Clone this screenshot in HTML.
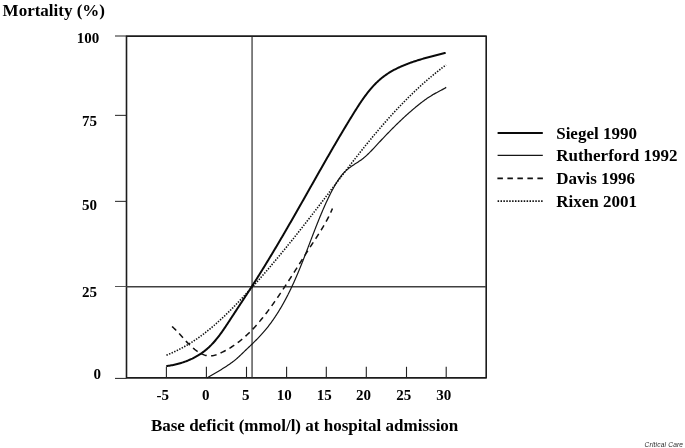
<!DOCTYPE html>
<html><head><meta charset="utf-8"><title>Mortality vs base deficit</title>
<style>
html,body{margin:0;padding:0;background:#fff;}
body{width:685px;height:448px;overflow:hidden;position:relative;}
svg{position:absolute;left:0;top:0;display:block;opacity:0.999;will-change:transform;}
text{font-family:"Liberation Serif",serif;font-weight:bold;fill:#000;}
.t15{font-size:15px;}
.t16{font-size:17px;}
</style></head><body>
<svg width="685" height="448" viewBox="0 0 685 448">
<rect x="0" y="0" width="685" height="448" fill="#fff"/>
<!-- frame -->
<rect x="126.5" y="36.1" width="359.7" height="341.8" fill="none" stroke="#1c1c1c" stroke-width="1.6" stroke-linejoin="round"/>
<!-- reference lines -->
<line x1="115" y1="286.5" x2="126.5" y2="286.5" stroke="#555" stroke-width="1"/>
<line x1="126.5" y1="286.7" x2="486" y2="286.7" stroke="#404040" stroke-width="1.45"/>
<line x1="252.05" y1="36" x2="252.05" y2="378" stroke="#262626" stroke-width="1.15"/>
<!-- y ticks -->
<g stroke="#222" stroke-width="1">
<line x1="115" y1="36.0" x2="126.5" y2="36.0"/>
<line x1="115" y1="115.35" x2="126.5" y2="115.35"/>
<line x1="115" y1="201.35" x2="126.5" y2="201.35"/>
<line x1="115" y1="378.4" x2="126.5" y2="378.4"/>
</g>
<!-- x ticks -->
<g stroke="#222" stroke-width="1.1">
<line x1="166.4" y1="366.8" x2="166.4" y2="378"/>
<line x1="206.4" y1="366.8" x2="206.4" y2="378"/>
<line x1="246.5" y1="366.8" x2="246.5" y2="378"/>
<line x1="286.6" y1="366.8" x2="286.6" y2="378"/>
<line x1="326.3" y1="366.8" x2="326.3" y2="378"/>
<line x1="366.3" y1="366.8" x2="366.3" y2="378"/>
<line x1="406.5" y1="366.8" x2="406.5" y2="378"/>
<line x1="446.2" y1="366.8" x2="446.2" y2="378"/>
</g>
<!-- curves -->
<path d="M166.30 366.09 L167.31 365.97 L168.31 365.83 L169.32 365.68 L170.32 365.52 L171.32 365.35 L172.32 365.16 L173.32 364.96 L174.31 364.75 L175.30 364.53 L176.29 364.30 L177.27 364.05 L178.25 363.80 L179.23 363.53 L180.20 363.25 L181.17 362.96 L182.13 362.65 L183.09 362.34 L184.05 362.01 L185.00 361.67 L185.94 361.32 L186.88 360.95 L187.81 360.58 L188.74 360.19 L189.66 359.79 L190.58 359.38 L191.49 358.96 L192.39 358.53 L193.28 358.08 L194.17 357.62 L195.05 357.15 L195.93 356.67 L196.79 356.18 L197.65 355.68 L198.50 355.16 L199.34 354.64 L200.18 354.10 L201.00 353.55 L201.82 352.98 L202.63 352.41 L203.42 351.83 L204.21 351.23 L204.99 350.62 L205.76 350.00 L206.52 349.37 L207.27 348.73 L208.01 348.08 L208.74 347.41 L209.45 346.74 L210.16 346.05 L210.86 345.35 L211.56 344.65 L212.24 343.93 L212.91 343.21 L213.58 342.48 L214.24 341.74 L214.89 340.99 L215.54 340.23 L216.17 339.47 L216.80 338.70 L217.43 337.92 L218.05 337.13 L218.66 336.34 L219.27 335.55 L219.87 334.74 L220.46 333.94 L221.06 333.13 L221.64 332.31 L222.23 331.49 L222.80 330.66 L223.38 329.84 L223.95 329.00 L224.52 328.17 L225.08 327.33 L225.65 326.49 L226.21 325.65 L226.77 324.81 L227.32 323.97 L227.88 323.12 L228.43 322.28 L228.99 321.43 L229.54 320.59 L230.09 319.74 L230.64 318.90 L231.19 318.05 L231.74 317.21 L232.29 316.37 L232.85 315.53 L233.40 314.68 L233.95 313.84 L234.50 313.01 L235.05 312.17 L235.60 311.33 L236.15 310.49 L236.70 309.65 L237.25 308.82 L237.80 307.98 L238.35 307.15 L238.90 306.31 L239.45 305.48 L240.00 304.64 L240.55 303.81 L241.10 302.97 L241.65 302.14 L242.19 301.30 L242.74 300.47 L243.29 299.63 L243.83 298.80 L244.38 297.97 L244.93 297.13 L245.47 296.30 L246.02 295.46 L246.56 294.63 L247.11 293.79 L247.65 292.96 L248.19 292.12 L248.74 291.28 L249.28 290.45 L249.82 289.61 L250.36 288.77 L250.90 287.93 L251.44 287.09 L251.98 286.25 L252.52 285.41 L253.05 284.57 L253.59 283.73 L254.13 282.89 L254.66 282.05 L255.20 281.20 L255.73 280.36 L256.26 279.51 L256.80 278.67 L257.33 277.82 L257.86 276.97 L258.39 276.13 L258.92 275.28 L259.45 274.43 L259.98 273.58 L260.51 272.73 L261.04 271.88 L261.57 271.03 L262.09 270.18 L262.62 269.33 L263.15 268.47 L263.67 267.62 L264.20 266.77 L264.72 265.91 L265.24 265.06 L265.77 264.20 L266.29 263.35 L266.81 262.49 L267.33 261.64 L267.85 260.78 L268.37 259.92 L268.89 259.07 L269.41 258.21 L269.93 257.35 L270.45 256.49 L270.97 255.63 L271.48 254.77 L272.00 253.91 L272.52 253.05 L273.03 252.19 L273.55 251.33 L274.06 250.47 L274.57 249.61 L275.09 248.74 L275.60 247.88 L276.11 247.02 L276.63 246.15 L277.14 245.29 L277.65 244.43 L278.16 243.56 L278.67 242.70 L279.18 241.83 L279.69 240.97 L280.20 240.10 L280.71 239.24 L281.21 238.37 L281.72 237.51 L282.23 236.64 L282.73 235.77 L283.24 234.91 L283.75 234.04 L284.25 233.17 L284.76 232.31 L285.26 231.44 L285.77 230.57 L286.27 229.70 L286.77 228.83 L287.28 227.97 L287.78 227.10 L288.28 226.23 L288.78 225.36 L289.28 224.49 L289.78 223.62 L290.29 222.75 L290.79 221.89 L291.29 221.02 L291.79 220.15 L292.28 219.28 L292.78 218.41 L293.28 217.54 L293.78 216.67 L294.28 215.80 L294.78 214.93 L295.27 214.06 L295.77 213.19 L296.27 212.32 L296.76 211.45 L297.26 210.58 L297.75 209.71 L298.25 208.84 L298.74 207.97 L299.24 207.10 L299.73 206.23 L300.23 205.36 L300.72 204.49 L301.21 203.62 L301.71 202.75 L302.20 201.88 L302.69 201.02 L303.19 200.15 L303.68 199.28 L304.17 198.41 L304.66 197.54 L305.16 196.67 L305.65 195.80 L306.14 194.93 L306.63 194.06 L307.12 193.19 L307.61 192.32 L308.10 191.46 L308.60 190.59 L309.09 189.72 L309.58 188.85 L310.07 187.98 L310.56 187.11 L311.05 186.24 L311.54 185.37 L312.03 184.51 L312.52 183.64 L313.01 182.77 L313.50 181.90 L314.00 181.03 L314.49 180.17 L314.98 179.30 L315.47 178.43 L315.96 177.56 L316.45 176.69 L316.94 175.83 L317.44 174.96 L317.93 174.09 L318.42 173.22 L318.91 172.35 L319.40 171.49 L319.90 170.62 L320.39 169.75 L320.88 168.89 L321.38 168.02 L321.87 167.15 L322.36 166.28 L322.86 165.42 L323.35 164.55 L323.85 163.68 L324.34 162.82 L324.84 161.95 L325.33 161.08 L325.83 160.22 L326.33 159.35 L326.82 158.48 L327.32 157.62 L327.82 156.75 L328.31 155.89 L328.81 155.02 L329.31 154.15 L329.81 153.29 L330.31 152.42 L330.81 151.56 L331.31 150.69 L331.81 149.83 L332.31 148.96 L332.82 148.10 L333.32 147.23 L333.82 146.37 L334.33 145.50 L334.83 144.64 L335.34 143.77 L335.84 142.91 L336.35 142.04 L336.86 141.18 L337.36 140.31 L337.87 139.45 L338.38 138.58 L338.89 137.72 L339.40 136.86 L339.91 135.99 L340.42 135.13 L340.93 134.26 L341.45 133.40 L341.96 132.54 L342.47 131.67 L342.99 130.81 L343.51 129.95 L344.02 129.08 L344.54 128.22 L345.06 127.36 L345.58 126.49 L346.10 125.63 L346.62 124.77 L347.14 123.91 L347.66 123.05 L348.19 122.18 L348.71 121.32 L349.24 120.46 L349.76 119.60 L350.29 118.74 L350.82 117.87 L351.35 117.01 L351.88 116.15 L352.41 115.29 L352.94 114.43 L353.47 113.57 L354.01 112.71 L354.54 111.85 L355.08 110.99 L355.62 110.13 L356.16 109.27 L356.70 108.42 L357.25 107.56 L357.80 106.71 L358.35 105.86 L358.90 105.01 L359.45 104.17 L360.01 103.32 L360.57 102.48 L361.14 101.65 L361.71 100.81 L362.28 99.98 L362.85 99.16 L363.43 98.34 L364.02 97.52 L364.61 96.71 L365.20 95.90 L365.80 95.09 L366.40 94.30 L367.01 93.50 L367.62 92.71 L368.24 91.93 L368.86 91.16 L369.49 90.39 L370.12 89.62 L370.76 88.87 L371.41 88.12 L372.06 87.37 L372.72 86.64 L373.39 85.91 L374.06 85.19 L374.74 84.48 L375.43 83.77 L376.12 83.07 L376.83 82.39 L377.53 81.71 L378.25 81.04 L378.98 80.38 L379.71 79.72 L380.45 79.08 L381.20 78.45 L381.96 77.83 L382.73 77.22 L383.50 76.61 L384.29 76.02 L385.09 75.44 L385.89 74.87 L386.70 74.32 L387.52 73.77 L388.35 73.23 L389.19 72.70 L390.03 72.18 L390.89 71.67 L391.75 71.17 L392.61 70.68 L393.49 70.20 L394.37 69.73 L395.25 69.27 L396.15 68.81 L397.05 68.37 L397.95 67.93 L398.86 67.50 L399.77 67.08 L400.69 66.66 L401.62 66.25 L402.54 65.85 L403.48 65.46 L404.41 65.08 L405.35 64.70 L406.30 64.33 L407.24 63.96 L408.19 63.60 L409.14 63.25 L410.10 62.90 L411.05 62.56 L412.01 62.23 L412.97 61.90 L413.93 61.57 L414.90 61.25 L415.86 60.94 L416.82 60.63 L417.79 60.32 L418.75 60.02 L419.72 59.73 L420.69 59.44 L421.65 59.15 L422.62 58.86 L423.59 58.58 L424.56 58.31 L425.52 58.03 L426.49 57.76 L427.46 57.50 L428.43 57.23 L429.39 56.97 L430.36 56.72 L431.33 56.46 L432.29 56.21 L433.26 55.96 L434.22 55.71 L435.18 55.46 L436.14 55.22 L437.11 54.98 L438.07 54.74 L439.02 54.50 L439.98 54.26 L440.94 54.03 L441.89 53.79 L442.84 53.56 L443.80 53.32 L444.74 53.09 L445.69 52.86" fill="none" stroke="#0a0a0a" stroke-width="2.0" stroke-linejoin="round"/>
<path d="M206.84 378.05 L207.69 377.55 L208.55 377.05 L209.41 376.55 L210.27 376.05 L211.13 375.54 L211.99 375.04 L212.86 374.54 L213.72 374.03 L214.59 373.52 L215.45 373.01 L216.32 372.50 L217.18 371.99 L218.04 371.47 L218.90 370.95 L219.76 370.43 L220.62 369.91 L221.48 369.39 L222.33 368.86 L223.19 368.33 L224.04 367.79 L224.88 367.26 L225.73 366.71 L226.57 366.17 L227.40 365.62 L228.23 365.06 L229.06 364.50 L229.88 363.93 L230.69 363.35 L231.50 362.77 L232.30 362.18 L233.09 361.58 L233.88 360.98 L234.65 360.36 L235.42 359.73 L236.18 359.10 L236.93 358.45 L237.68 357.79 L238.41 357.13 L239.14 356.45 L239.86 355.77 L240.58 355.09 L241.30 354.40 L242.02 353.71 L242.73 353.02 L243.45 352.33 L244.17 351.63 L244.89 350.94 L245.61 350.25 L246.34 349.56 L247.06 348.87 L247.79 348.18 L248.51 347.49 L249.23 346.79 L249.96 346.10 L250.68 345.41 L251.41 344.71 L252.13 344.01 L252.85 343.31 L253.57 342.61 L254.28 341.91 L254.99 341.20 L255.71 340.49 L256.41 339.78 L257.12 339.07 L257.82 338.35 L258.52 337.63 L259.21 336.90 L259.90 336.18 L260.58 335.44 L261.26 334.71 L261.93 333.96 L262.60 333.22 L263.26 332.46 L263.92 331.71 L264.57 330.95 L265.22 330.18 L265.85 329.41 L266.49 328.63 L267.12 327.85 L267.74 327.07 L268.35 326.28 L268.97 325.49 L269.57 324.69 L270.17 323.89 L270.77 323.09 L271.36 322.28 L271.94 321.47 L272.52 320.65 L273.10 319.83 L273.67 319.01 L274.23 318.19 L274.79 317.36 L275.34 316.53 L275.90 315.69 L276.44 314.86 L276.98 314.02 L277.52 313.18 L278.05 312.33 L278.58 311.48 L279.10 310.63 L279.62 309.78 L280.13 308.93 L280.64 308.07 L281.15 307.21 L281.65 306.35 L282.15 305.49 L282.64 304.63 L283.13 303.76 L283.61 302.89 L284.09 302.02 L284.57 301.14 L285.05 300.27 L285.52 299.39 L285.98 298.51 L286.45 297.63 L286.91 296.75 L287.36 295.86 L287.82 294.98 L288.26 294.09 L288.71 293.20 L289.15 292.31 L289.59 291.41 L290.03 290.52 L290.46 289.62 L290.90 288.72 L291.32 287.82 L291.75 286.92 L292.17 286.02 L292.59 285.11 L293.01 284.21 L293.42 283.30 L293.83 282.39 L294.24 281.48 L294.65 280.57 L295.05 279.66 L295.45 278.74 L295.85 277.83 L296.25 276.91 L296.65 276.00 L297.04 275.08 L297.43 274.16 L297.82 273.24 L298.21 272.32 L298.59 271.39 L298.98 270.47 L299.36 269.54 L299.74 268.62 L300.12 267.69 L300.50 266.77 L300.87 265.84 L301.25 264.91 L301.62 263.98 L301.99 263.05 L302.36 262.12 L302.73 261.19 L303.10 260.26 L303.47 259.32 L303.83 258.39 L304.20 257.46 L304.56 256.52 L304.92 255.59 L305.29 254.65 L305.65 253.72 L306.01 252.78 L306.37 251.85 L306.73 250.91 L307.09 249.97 L307.45 249.04 L307.81 248.10 L308.17 247.16 L308.52 246.22 L308.88 245.29 L309.24 244.35 L309.60 243.41 L309.96 242.47 L310.31 241.54 L310.67 240.60 L311.03 239.66 L311.39 238.72 L311.75 237.79 L312.10 236.85 L312.46 235.91 L312.82 234.98 L313.18 234.04 L313.54 233.10 L313.91 232.17 L314.27 231.23 L314.63 230.30 L314.99 229.36 L315.36 228.43 L315.72 227.49 L316.09 226.56 L316.46 225.63 L316.83 224.70 L317.20 223.77 L317.57 222.84 L317.94 221.91 L318.31 220.98 L318.69 220.05 L319.06 219.12 L319.44 218.19 L319.82 217.27 L320.20 216.34 L320.59 215.42 L320.97 214.49 L321.36 213.57 L321.74 212.65 L322.14 211.73 L322.53 210.81 L322.92 209.89 L323.32 208.97 L323.72 208.06 L324.12 207.14 L324.52 206.23 L324.93 205.32 L325.34 204.41 L325.75 203.50 L326.16 202.59 L326.58 201.68 L327.00 200.78 L327.42 199.88 L327.85 198.97 L328.28 198.07 L328.72 197.18 L329.15 196.28 L329.60 195.39 L330.04 194.49 L330.49 193.60 L330.95 192.71 L331.41 191.83 L331.87 190.94 L332.34 190.06 L332.81 189.18 L333.29 188.30 L333.77 187.43 L334.26 186.56 L334.75 185.69 L335.25 184.82 L335.76 183.96 L336.27 183.10 L336.80 182.25 L337.33 181.40 L337.86 180.56 L338.41 179.73 L338.97 178.91 L339.54 178.10 L340.13 177.30 L340.72 176.51 L341.33 175.73 L341.95 174.96 L342.58 174.20 L343.23 173.46 L343.90 172.73 L344.58 172.02 L345.27 171.32 L345.99 170.64 L346.72 169.98 L347.47 169.34 L348.23 168.71 L349.02 168.10 L349.82 167.50 L350.63 166.92 L351.45 166.34 L352.28 165.78 L353.12 165.22 L353.96 164.67 L354.81 164.12 L355.66 163.58 L356.52 163.03 L357.36 162.48 L358.21 161.93 L359.05 161.37 L359.88 160.80 L360.71 160.22 L361.52 159.64 L362.32 159.04 L363.11 158.42 L363.89 157.79 L364.65 157.15 L365.41 156.50 L366.15 155.84 L366.89 155.17 L367.61 154.49 L368.33 153.80 L369.04 153.10 L369.75 152.40 L370.44 151.69 L371.14 150.97 L371.83 150.25 L372.51 149.53 L373.20 148.80 L373.88 148.07 L374.56 147.33 L375.24 146.60 L375.92 145.87 L376.60 145.13 L377.28 144.40 L377.96 143.67 L378.64 142.93 L379.32 142.20 L380.01 141.47 L380.69 140.74 L381.38 140.01 L382.07 139.28 L382.76 138.55 L383.45 137.83 L384.14 137.10 L384.83 136.37 L385.52 135.65 L386.22 134.93 L386.91 134.20 L387.61 133.48 L388.31 132.76 L389.01 132.05 L389.71 131.33 L390.41 130.61 L391.12 129.90 L391.82 129.19 L392.53 128.47 L393.24 127.76 L393.95 127.06 L394.66 126.35 L395.37 125.65 L396.08 124.94 L396.80 124.24 L397.52 123.54 L398.24 122.84 L398.96 122.15 L399.68 121.46 L400.41 120.76 L401.13 120.08 L401.86 119.39 L402.59 118.70 L403.32 118.02 L404.06 117.34 L404.79 116.66 L405.53 115.99 L406.27 115.31 L407.01 114.64 L407.76 113.98 L408.50 113.31 L409.25 112.65 L410.00 111.99 L410.75 111.33 L411.51 110.68 L412.26 110.02 L413.02 109.38 L413.78 108.73 L414.54 108.09 L415.31 107.45 L416.08 106.81 L416.85 106.18 L417.62 105.55 L418.40 104.92 L419.18 104.30 L419.96 103.68 L420.74 103.07 L421.53 102.46 L422.32 101.86 L423.12 101.26 L423.92 100.67 L424.72 100.08 L425.53 99.50 L426.35 98.93 L427.16 98.36 L427.99 97.80 L428.82 97.25 L429.65 96.70 L430.49 96.17 L431.33 95.64 L432.19 95.12 L433.04 94.61 L433.91 94.11 L434.78 93.62 L435.65 93.14 L436.54 92.66 L437.42 92.19 L438.31 91.73 L439.20 91.26 L440.09 90.79 L440.98 90.33 L441.86 89.85 L442.74 89.38 L443.62 88.89 L444.49 88.40 L445.36 87.89 L446.21 87.37" fill="none" stroke="#151515" stroke-width="1.2"/>
<path d="M332.47 208.42 L332.09 209.34 L331.71 210.25 L331.31 211.16 L330.91 212.07 L330.49 212.98 L330.07 213.88 L329.65 214.78 L329.21 215.67 L328.77 216.56 L328.32 217.45 L327.86 218.34 L327.40 219.22 L326.93 220.10 L326.45 220.97 L325.97 221.85 L325.49 222.72 L325.00 223.59 L324.50 224.45 L324.00 225.32 L323.49 226.18 L322.98 227.04 L322.46 227.90 L321.95 228.75 L321.42 229.61 L320.90 230.46 L320.37 231.31 L319.84 232.16 L319.30 233.01 L318.77 233.85 L318.23 234.70 L317.69 235.54 L317.14 236.38 L316.60 237.23 L316.05 238.07 L315.50 238.91 L314.96 239.75 L314.41 240.59 L313.86 241.43 L313.31 242.27 L312.76 243.11 L312.22 243.94 L311.67 244.78 L311.12 245.62 L310.58 246.46 L310.03 247.30 L309.49 248.14 L308.95 248.98 L308.40 249.82 L307.86 250.66 L307.32 251.50 L306.79 252.33 L306.25 253.17 L305.71 254.01 L305.17 254.85 L304.64 255.69 L304.10 256.53 L303.57 257.38 L303.03 258.22 L302.50 259.06 L301.97 259.90 L301.43 260.74 L300.90 261.58 L300.37 262.42 L299.83 263.26 L299.30 264.10 L298.77 264.94 L298.24 265.78 L297.71 266.62 L297.17 267.45 L296.64 268.29 L296.11 269.13 L295.58 269.97 L295.04 270.81 L294.51 271.65 L293.98 272.49 L293.44 273.33 L292.91 274.16 L292.37 275.00 L291.84 275.84 L291.30 276.68 L290.77 277.51 L290.23 278.35 L289.69 279.19 L289.15 280.02 L288.61 280.86 L288.07 281.69 L287.53 282.53 L286.99 283.36 L286.45 284.20 L285.90 285.03 L285.36 285.86 L284.81 286.70 L284.26 287.53 L283.71 288.36 L283.16 289.19 L282.61 290.02 L282.06 290.85 L281.50 291.68 L280.95 292.51 L280.39 293.34 L279.83 294.17 L279.27 295.00 L278.71 295.83 L278.14 296.65 L277.58 297.48 L277.01 298.30 L276.44 299.13 L275.87 299.95 L275.30 300.78 L274.72 301.60 L274.14 302.42 L273.56 303.24 L272.98 304.06 L272.40 304.88 L271.81 305.70 L271.22 306.52 L270.63 307.33 L270.03 308.15 L269.44 308.96 L268.84 309.77 L268.24 310.58 L267.63 311.39 L267.02 312.19 L266.41 313.00 L265.80 313.80 L265.18 314.59 L264.56 315.39 L263.94 316.18 L263.31 316.97 L262.68 317.76 L262.05 318.54 L261.41 319.32 L260.77 320.10 L260.13 320.87 L259.48 321.64 L258.83 322.41 L258.18 323.17 L257.52 323.93 L256.86 324.68 L256.19 325.43 L255.52 326.18 L254.85 326.92 L254.17 327.66 L253.48 328.39 L252.80 329.12 L252.11 329.84 L251.41 330.55 L250.71 331.27 L250.00 331.97 L249.29 332.67 L248.58 333.37 L247.86 334.06 L247.13 334.74 L246.41 335.42 L245.67 336.09 L244.93 336.76 L244.19 337.42 L243.44 338.07 L242.68 338.71 L241.92 339.35 L241.16 339.99 L240.39 340.61 L239.61 341.23 L238.83 341.84 L238.04 342.44 L237.25 343.04 L236.45 343.63 L235.64 344.21 L234.83 344.78 L234.02 345.35 L233.19 345.91 L232.37 346.45 L231.53 347.00 L230.69 347.53 L229.84 348.05 L228.99 348.57 L228.13 349.07 L227.26 349.57 L226.39 350.06 L225.51 350.53 L224.62 351.00 L223.73 351.46 L222.83 351.91 L221.92 352.35 L221.00 352.79 L220.08 353.21 L219.16 353.61 L218.22 354.00 L217.29 354.36 L216.34 354.70 L215.40 355.00 L214.46 355.27 L213.51 355.50 L212.56 355.68 L211.62 355.82 L210.67 355.90 L209.73 355.92 L208.79 355.88 L207.85 355.79 L206.92 355.64 L205.99 355.44 L205.07 355.19 L204.15 354.90 L203.24 354.56 L202.34 354.18 L201.44 353.76 L200.56 353.31 L199.68 352.82 L198.81 352.30 L197.95 351.76 L197.11 351.19 L196.27 350.59 L195.45 349.98 L194.63 349.35 L193.84 348.70 L193.05 348.04 L192.27 347.37 L191.51 346.68 L190.76 345.98 L190.01 345.28 L189.28 344.56 L188.56 343.84 L187.84 343.11 L187.13 342.37 L186.43 341.62 L185.73 340.88 L185.04 340.13 L184.35 339.37 L183.67 338.62 L182.99 337.86 L182.31 337.11 L181.64 336.35 L180.96 335.60 L180.29 334.86 L179.62 334.11 L178.95 333.37 L178.27 332.64 L177.60 331.92 L176.92 331.20 L176.24 330.49 L175.56 329.80 L174.87 329.11 L174.18 328.44 L173.48 327.77 L172.78 327.13 L172.07 326.49" fill="none" stroke="#111" stroke-width="1.5" stroke-dasharray="5.72 4.32" stroke-dashoffset="1.12"/>
<path d="M166.47 355.16 L167.42 354.78 L168.36 354.40 L169.31 354.01 L170.24 353.61 L171.18 353.21 L172.11 352.80 L173.03 352.39 L173.95 351.97 L174.87 351.54 L175.78 351.11 L176.69 350.67 L177.59 350.22 L178.49 349.77 L179.39 349.31 L180.28 348.85 L181.17 348.38 L182.06 347.91 L182.94 347.43 L183.81 346.94 L184.69 346.45 L185.56 345.96 L186.42 345.45 L187.29 344.95 L188.14 344.44 L189.00 343.92 L189.85 343.40 L190.70 342.87 L191.54 342.34 L192.38 341.80 L193.22 341.26 L194.05 340.71 L194.88 340.16 L195.71 339.60 L196.53 339.04 L197.35 338.48 L198.17 337.91 L198.98 337.33 L199.80 336.76 L200.60 336.17 L201.41 335.58 L202.21 334.99 L203.00 334.40 L203.80 333.80 L204.59 333.19 L205.38 332.58 L206.16 331.97 L206.95 331.36 L207.73 330.74 L208.50 330.11 L209.28 329.49 L210.05 328.85 L210.82 328.22 L211.58 327.58 L212.34 326.94 L213.10 326.29 L213.86 325.65 L214.62 325.00 L215.37 324.34 L216.12 323.68 L216.87 323.02 L217.61 322.36 L218.35 321.69 L219.09 321.02 L219.83 320.35 L220.57 319.67 L221.30 318.99 L222.03 318.31 L222.76 317.63 L223.49 316.95 L224.21 316.26 L224.94 315.57 L225.66 314.87 L226.38 314.18 L227.09 313.48 L227.81 312.78 L228.52 312.08 L229.24 311.38 L229.95 310.67 L230.65 309.96 L231.36 309.26 L232.07 308.55 L232.77 307.83 L233.47 307.12 L234.17 306.40 L234.87 305.69 L235.57 304.97 L236.27 304.25 L236.96 303.53 L237.66 302.81 L238.35 302.08 L239.04 301.36 L239.73 300.63 L240.42 299.91 L241.11 299.18 L241.79 298.45 L242.48 297.72 L243.16 296.99 L243.85 296.26 L244.53 295.53 L245.21 294.80 L245.89 294.07 L246.57 293.33 L247.25 292.60 L247.93 291.86 L248.61 291.13 L249.28 290.39 L249.96 289.65 L250.63 288.91 L251.30 288.17 L251.98 287.43 L252.65 286.69 L253.32 285.95 L253.99 285.20 L254.65 284.46 L255.32 283.72 L255.99 282.97 L256.65 282.23 L257.32 281.48 L257.98 280.73 L258.64 279.98 L259.31 279.23 L259.97 278.49 L260.63 277.73 L261.29 276.98 L261.94 276.23 L262.60 275.48 L263.26 274.73 L263.91 273.97 L264.57 273.22 L265.22 272.46 L265.88 271.71 L266.53 270.95 L267.18 270.19 L267.83 269.44 L268.48 268.68 L269.13 267.92 L269.78 267.16 L270.43 266.40 L271.07 265.64 L271.72 264.87 L272.37 264.11 L273.01 263.35 L273.66 262.58 L274.30 261.82 L274.94 261.06 L275.58 260.29 L276.22 259.52 L276.87 258.76 L277.51 257.99 L278.14 257.22 L278.78 256.45 L279.42 255.68 L280.06 254.92 L280.69 254.15 L281.33 253.37 L281.97 252.60 L282.60 251.83 L283.23 251.06 L283.87 250.29 L284.50 249.51 L285.13 248.74 L285.76 247.96 L286.40 247.19 L287.03 246.41 L287.66 245.64 L288.29 244.86 L288.91 244.09 L289.54 243.31 L290.17 242.53 L290.80 241.75 L291.42 240.97 L292.05 240.19 L292.67 239.41 L293.30 238.63 L293.92 237.85 L294.55 237.07 L295.17 236.29 L295.79 235.51 L296.42 234.73 L297.04 233.94 L297.66 233.16 L298.28 232.38 L298.90 231.59 L299.52 230.81 L300.14 230.02 L300.76 229.24 L301.38 228.45 L302.00 227.67 L302.62 226.88 L303.23 226.10 L303.85 225.31 L304.47 224.52 L305.09 223.73 L305.70 222.95 L306.32 222.16 L306.93 221.37 L307.55 220.58 L308.16 219.79 L308.78 219.00 L309.39 218.21 L310.01 217.42 L310.62 216.63 L311.23 215.84 L311.84 215.05 L312.46 214.26 L313.07 213.47 L313.68 212.67 L314.29 211.88 L314.90 211.09 L315.52 210.30 L316.13 209.50 L316.74 208.71 L317.35 207.92 L317.96 207.12 L318.57 206.33 L319.18 205.53 L319.79 204.74 L320.40 203.95 L321.01 203.15 L321.61 202.36 L322.22 201.56 L322.83 200.77 L323.44 199.97 L324.05 199.17 L324.66 198.38 L325.26 197.58 L325.87 196.79 L326.48 195.99 L327.09 195.19 L327.69 194.40 L328.30 193.60 L328.91 192.80 L329.52 192.01 L330.12 191.21 L330.73 190.41 L331.34 189.61 L331.94 188.82 L332.55 188.02 L333.16 187.22 L333.76 186.42 L334.37 185.63 L334.98 184.83 L335.59 184.03 L336.19 183.24 L336.80 182.44 L337.41 181.64 L338.02 180.84 L338.62 180.05 L339.23 179.25 L339.84 178.45 L340.45 177.66 L341.06 176.86 L341.67 176.07 L342.28 175.27 L342.88 174.47 L343.49 173.68 L344.10 172.88 L344.71 172.09 L345.32 171.30 L345.93 170.50 L346.55 169.71 L347.16 168.91 L347.77 168.12 L348.38 167.33 L348.99 166.53 L349.61 165.74 L350.22 164.95 L350.83 164.16 L351.45 163.37 L352.06 162.58 L352.68 161.79 L353.29 161.00 L353.91 160.21 L354.53 159.42 L355.14 158.63 L355.76 157.84 L356.38 157.05 L357.00 156.27 L357.62 155.48 L358.24 154.69 L358.86 153.91 L359.48 153.12 L360.10 152.34 L360.72 151.56 L361.35 150.77 L361.97 149.99 L362.60 149.21 L363.22 148.43 L363.85 147.65 L364.47 146.87 L365.10 146.09 L365.73 145.31 L366.36 144.54 L366.99 143.76 L367.62 142.98 L368.25 142.21 L368.88 141.44 L369.52 140.66 L370.15 139.89 L370.79 139.12 L371.42 138.35 L372.06 137.58 L372.70 136.81 L373.34 136.04 L373.98 135.27 L374.62 134.51 L375.26 133.74 L375.90 132.98 L376.55 132.21 L377.19 131.45 L377.84 130.69 L378.48 129.93 L379.13 129.17 L379.78 128.41 L380.43 127.65 L381.08 126.89 L381.73 126.14 L382.39 125.38 L383.04 124.63 L383.70 123.88 L384.36 123.13 L385.01 122.38 L385.67 121.63 L386.33 120.88 L387.00 120.14 L387.66 119.39 L388.32 118.65 L388.99 117.90 L389.66 117.16 L390.33 116.42 L391.00 115.68 L391.67 114.95 L392.34 114.21 L393.01 113.47 L393.69 112.74 L394.36 112.01 L395.04 111.28 L395.72 110.55 L396.40 109.82 L397.09 109.09 L397.77 108.37 L398.45 107.64 L399.14 106.92 L399.83 106.20 L400.52 105.48 L401.21 104.76 L401.90 104.04 L402.60 103.33 L403.30 102.61 L403.99 101.90 L404.69 101.19 L405.39 100.48 L406.10 99.77 L406.80 99.07 L407.51 98.36 L408.21 97.66 L408.92 96.96 L409.64 96.26 L410.35 95.56 L411.06 94.87 L411.78 94.17 L412.50 93.48 L413.22 92.79 L413.94 92.10 L414.66 91.41 L415.39 90.72 L416.11 90.04 L416.84 89.36 L417.57 88.68 L418.31 88.00 L419.04 87.32 L419.78 86.64 L420.52 85.97 L421.26 85.30 L422.00 84.63 L422.75 83.96 L423.49 83.30 L424.24 82.63 L424.99 81.97 L425.74 81.31 L426.50 80.65 L427.25 80.00 L428.01 79.34 L428.77 78.69 L429.54 78.04 L430.30 77.39 L431.07 76.75 L431.84 76.10 L432.61 75.46 L433.38 74.82 L434.16 74.18 L434.94 73.55 L435.72 72.91 L436.50 72.28 L437.29 71.65 L438.07 71.02 L438.86 70.40 L439.65 69.78 L440.45 69.16 L441.24 68.54 L442.04 67.92 L442.84 67.31 L443.65 66.70 L444.45 66.09 L445.26 65.48 L446.07 64.88" fill="none" stroke="#111" stroke-width="1.6" stroke-dasharray="1.4 1.4"/>
<!-- legend -->
<line x1="497.6" y1="132.9" x2="542.8" y2="132.9" stroke="#0a0a0a" stroke-width="2.0"/>
<line x1="497.6" y1="155.3" x2="542.8" y2="155.3" stroke="#151515" stroke-width="1.2"/>
<line x1="497.4" y1="178.3" x2="543.4" y2="178.3" stroke="#111" stroke-width="1.8" stroke-dasharray="5.5 4.5"/>
<line x1="497.6" y1="201.1" x2="542.8" y2="201.1" stroke="#111" stroke-width="1.6" stroke-dasharray="1.5 1.4"/>
<text class="t16" x="556.2" y="138.6">Siegel 1990</text>
<text class="t16" x="556.2" y="161.2">Rutherford 1992</text>
<text class="t16" x="556.2" y="184.0">Davis 1996</text>
<text class="t16" x="556.2" y="206.6">Rixen 2001</text>
<!-- titles -->
<text class="t16" x="2.6" y="15.9">Mortality (%)</text>
<text class="t16" x="150.9" y="430.7">Base deficit (mmol/l) at hospital admission</text>
<!-- y labels -->
<text class="t15" x="99.3" y="42.8" text-anchor="end">100</text>
<text class="t15" x="96.9" y="126.2" text-anchor="end">75</text>
<text class="t15" x="96.9" y="210.4" text-anchor="end">50</text>
<text class="t15" x="96.9" y="296.8" text-anchor="end">25</text>
<text class="t15" x="101.1" y="379.2" text-anchor="end">0</text>
<!-- x labels -->
<text class="t15" x="162.8" y="399.6" text-anchor="middle">-5</text>
<text class="t15" x="205.8" y="399.6" text-anchor="middle">0</text>
<text class="t15" x="245.8" y="399.6" text-anchor="middle">5</text>
<text class="t15" x="284.3" y="399.5" text-anchor="middle">10</text>
<text class="t15" x="324.2" y="399.5" text-anchor="middle">15</text>
<text class="t15" x="363.6" y="399.5" text-anchor="middle">20</text>
<text class="t15" x="403.7" y="399.5" text-anchor="middle">25</text>
<text class="t15" x="443.7" y="399.5" text-anchor="middle">30</text>
<text x="644.6" y="446.8" style="font-family:'Liberation Sans',sans-serif;font-weight:normal;font-style:italic;font-size:6.6px;letter-spacing:0.18px;fill:#2a2a2a">Critical Care</text>
</svg>
</body></html>
